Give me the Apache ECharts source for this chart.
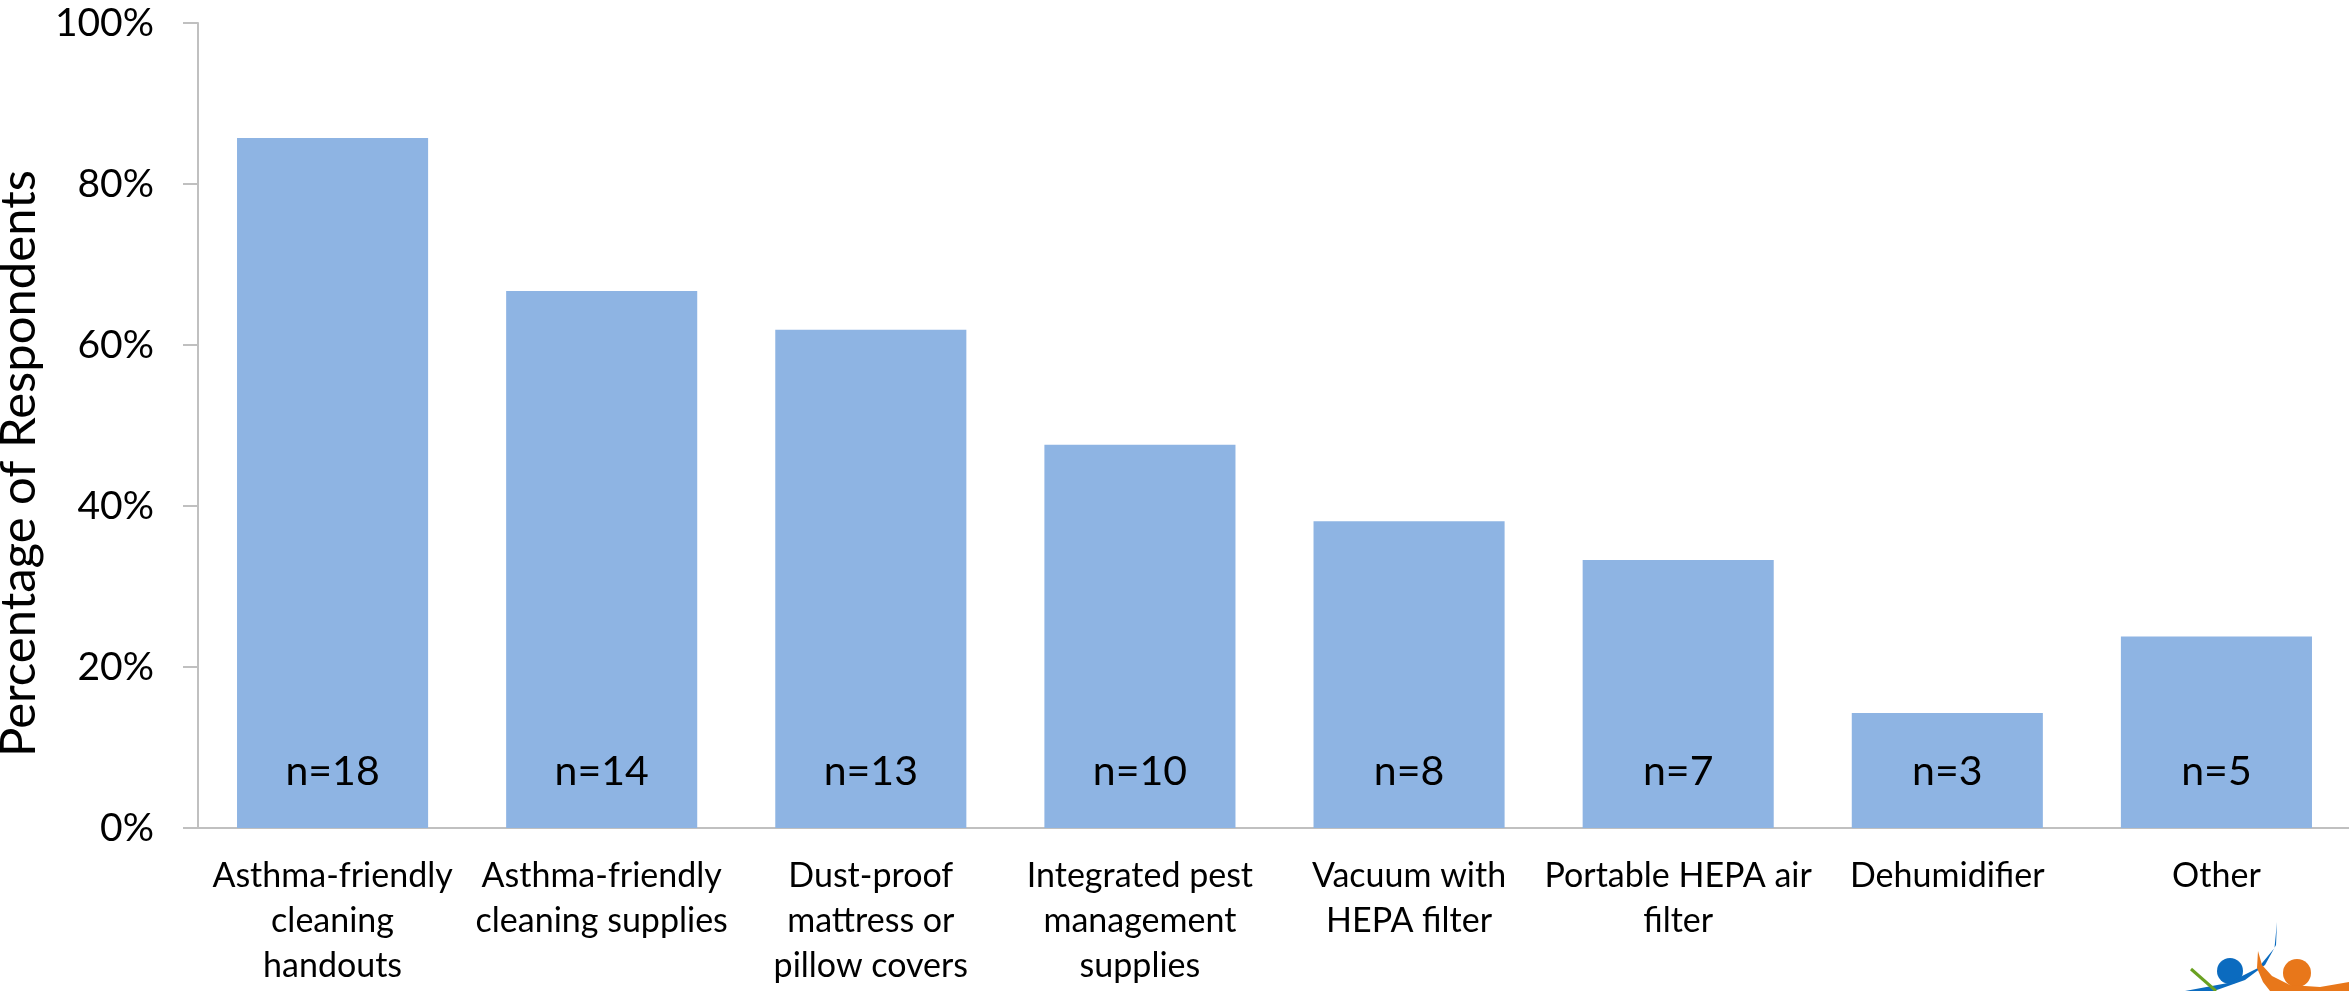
<!DOCTYPE html>
<html>
<head>
<meta charset="utf-8">
<title>Percentage of Respondents</title>
<script src="https://cdn.jsdelivr.net/npm/echarts@6/dist/echarts.min.js"></script>
<style>
  html, body { margin: 0; padding: 0; background: #ffffff; }
  #chart { width: 2349px; height: 991px; }
</style>
</head>
<body>
<div id="chart"></div>
<script>
// Items received, with the share of respondents (%) and the respondent count for each
const categories = [
  'Asthma-friendly\ncleaning\nhandouts',
  'Asthma-friendly\ncleaning supplies',
  'Dust-proof\nmattress or\npillow covers',
  'Integrated pest\nmanagement\nsupplies',
  'Vacuum with\nHEPA filter',
  'Portable HEPA air\nfilter',
  'Dehumidifier',
  'Other'
];
const percentValues = [85.7, 66.7, 61.9, 47.6, 38.1, 33.3, 14.3, 23.8];
const respondentCounts = [18, 14, 13, 10, 8, 7, 3, 5];
const yTicks = [0, 20, 40, 60, 80, 100];

const FONT = 'Lato, "Open Sans", sans-serif';
const AXIS_GRAY = '#C0C0C0';

const chart = echarts.init(document.getElementById('chart'), null, { renderer: 'canvas' });

chart.setOption({
  animation: false,
  backgroundColor: '#ffffff',
  textStyle: { fontFamily: FONT, color: '#000000' },
  grid: {
    left: 198, top: 23, width: 2153, height: 805,
    containLabel: false,
    outerBoundsMode: 'none'
  },
  xAxis: {
    type: 'category',
    data: categories,
    axisLine: { show: true, lineStyle: { color: AXIS_GRAY, width: 2 } },
    axisTick: { show: false },
    axisLabel: {
      interval: 0,
      margin: 26,
      fontSize: 34,
      lineHeight: 45,
      color: '#000000',
      fontFamily: FONT
    }
  },
  yAxis: {
    type: 'value',
    min: yTicks[0],
    max: yTicks[yTicks.length - 1],
    interval: yTicks[1] - yTicks[0],
    name: 'Percentage of Respondents',
    nameLocation: 'middle',
    nameRotate: 90,
    nameGap: 150,
    // extra right padding nudges the rotated title a little below the axis middle
    nameTextStyle: { fontSize: 49, color: '#000000', fontFamily: FONT, padding: [0, 76, 0, 0] },
    axisLine: { show: true, lineStyle: { color: AXIS_GRAY, width: 2 } },
    axisTick: { show: true, inside: false, length: 15, lineStyle: { color: AXIS_GRAY, width: 2 } },
    splitLine: { show: false },
    axisLabel: {
      formatter: '{value}%',
      margin: 44,
      fontSize: 39,
      color: '#000000',
      fontFamily: FONT
    }
  },
  series: [{
    type: 'bar',
    data: percentValues,
    barCategoryGap: '29%',
    itemStyle: { color: '#8EB4E3' },
    label: {
      show: true,
      position: 'insideBottom',
      distance: 36,
      fontSize: 41,
      color: '#000000',
      fontFamily: FONT,
      formatter: (p) => 'n=' + respondentCounts[p.dataIndex]
    }
  }],
  // small logo tucked into the bottom-right corner
  graphic: [
    { type: 'circle', shape: { cx: 2230, cy: 971, r: 13 }, style: { fill: '#0B6BBF' } },
    { type: 'circle', shape: { cx: 2297, cy: 973, r: 14 }, style: { fill: '#E8771A' } },
    {
      type: 'polygon',
      shape: { points: [[2277, 922], [2274.5, 948], [2258, 968], [2228, 983], [2185, 991], [2214, 991], [2245, 980], [2265, 965], [2276, 945]] },
      style: { fill: '#0B6BBF' }
    },
    {
      type: 'polygon',
      shape: { points: [[2258, 951], [2257, 968], [2263, 982], [2270, 991], [2349, 991], [2349, 982], [2320, 987], [2290, 985], [2272, 976], [2262, 965]] },
      style: { fill: '#E8771A' }
    },
    { type: 'line', shape: { x1: 2191, y1: 969, x2: 2216, y2: 991 }, style: { stroke: '#6AA121', lineWidth: 3 } }
  ]
});
</script>
</body>
</html>
